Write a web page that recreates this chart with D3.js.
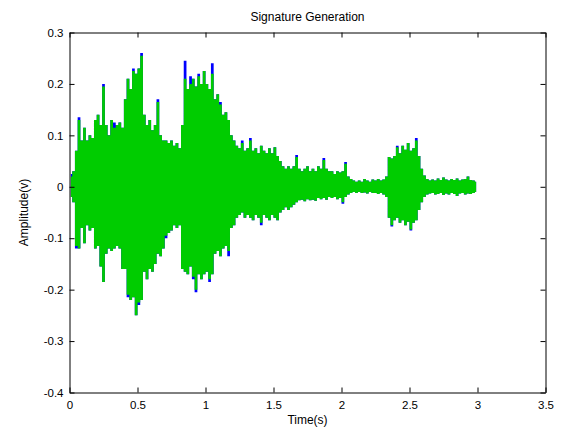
<!DOCTYPE html>
<html><head><meta charset="utf-8">
<script src="https://cdn.jsdelivr.net/npm/d3@7"></script>
<style>body{margin:0;background:#fff}svg{display:block}text{font-family:"Liberation Sans",Arial,sans-serif}</style>
</head><body>
<svg id="c" width="563" height="430"></svg>
<script>
const title = "Signature Generation";
const xLabel = "Time(s)";
const yLabel = "Amplitude(v)";
const xTicks = [0, 0.5, 1, 1.5, 2, 2.5, 3, 3.5];
const yTicks = [0.3, 0.2, 0.1, 0, -0.1, -0.2, -0.3, -0.4];
const binWidth = 0.02; // seconds per envelope bin, starting at t = 0

// green series (signature) per-bin maxima / minima
const greenMax = [0.02,0.03,0.07,0.13,0.09,0.115,0.09,0.10,0.095,0.13,
0.14,0.12,0.195,0.12,0.10,0.13,0.115,0.12,0.125,0.115,
0.17,0.21,0.19,0.225,0.22,0.23,0.255,0.14,0.12,0.13,
0.11,0.12,0.165,0.10,0.09,0.09,0.085,0.09,0.08,0.085,
0.075,0.12,0.21,0.19,0.2,0.21,0.195,0.215,0.2,0.225,
0.2,0.19,0.22,0.17,0.18,0.16,0.14,0.145,0.13,0.1,
0.09,0.08,0.075,0.085,0.07,0.075,0.09,0.07,0.075,0.065,
0.08,0.07,0.065,0.075,0.065,0.077,0.06,0.05,0.04,0.035,
0.04,0.035,0.04,0.058,0.035,0.03,0.035,0.04,0.03,0.035,
0.03,0.04,0.035,0.052,0.035,0.03,0.03,0.025,0.03,0.028,
0.03,0.045,0.02,0.015,0.012,0.01,0.012,0.01,0.015,0.012,
0.01,0.014,0.012,0.015,0.012,0.014,0.02,0.058,0.055,0.06,
0.077,0.065,0.08,0.072,0.085,0.07,0.075,0.09,0.06,0.035,
0.022,0.015,0.012,0.014,0.012,0.016,0.013,0.018,0.014,0.012,
0.015,0.013,0.016,0.012,0.014,0.015,0.02,0.013,0.012,0.01];
const greenMin = [-0.02,-0.03,-0.115,-0.12,-0.08,-0.11,-0.075,-0.085,-0.08,-0.12,
-0.115,-0.155,-0.185,-0.13,-0.12,-0.125,-0.12,-0.115,-0.12,-0.16,
-0.16,-0.21,-0.22,-0.215,-0.25,-0.225,-0.22,-0.165,-0.18,-0.16,
-0.165,-0.15,-0.13,-0.135,-0.12,-0.095,-0.09,-0.085,-0.075,-0.08,
-0.075,-0.16,-0.165,-0.17,-0.155,-0.175,-0.2,-0.17,-0.18,-0.17,
-0.165,-0.18,-0.17,-0.13,-0.125,-0.135,-0.12,-0.115,-0.125,-0.08,
-0.075,-0.06,-0.055,-0.05,-0.06,-0.055,-0.06,-0.065,-0.055,-0.06,
-0.07,-0.055,-0.06,-0.065,-0.055,-0.06,-0.065,-0.05,-0.045,-0.04,
-0.045,-0.04,-0.035,-0.03,-0.026,-0.025,-0.028,-0.024,-0.026,-0.025,
-0.027,-0.022,-0.024,-0.022,-0.025,-0.02,-0.022,-0.02,-0.024,-0.022,
-0.03,-0.02,-0.015,-0.012,-0.01,-0.012,-0.01,-0.012,-0.011,-0.013,
-0.01,-0.012,-0.012,-0.014,-0.012,-0.015,-0.02,-0.06,-0.075,-0.065,
-0.06,-0.07,-0.065,-0.075,-0.068,-0.083,-0.07,-0.065,-0.045,-0.03,
-0.02,-0.015,-0.013,-0.012,-0.015,-0.014,-0.012,-0.016,-0.013,-0.015,
-0.012,-0.014,-0.018,-0.013,-0.012,-0.015,-0.013,-0.014,-0.012,-0.01];

// blue series (original signal) per-bin maxima / minima
const blueMax = [0.025,0.03,0.07,0.135,0.09,0.115,0.09,0.10,0.095,0.13,
0.14,0.12,0.2,0.12,0.10,0.13,0.125,0.12,0.125,0.115,
0.17,0.21,0.19,0.23,0.22,0.23,0.26,0.14,0.12,0.13,
0.11,0.12,0.17,0.10,0.09,0.09,0.085,0.09,0.08,0.085,
0.075,0.12,0.245,0.19,0.215,0.21,0.195,0.22,0.2,0.225,
0.2,0.19,0.24,0.17,0.18,0.165,0.14,0.145,0.13,0.1,
0.09,0.08,0.075,0.09,0.07,0.075,0.095,0.07,0.075,0.065,
0.08,0.07,0.065,0.075,0.065,0.077,0.06,0.05,0.04,0.035,
0.04,0.035,0.04,0.062,0.035,0.03,0.035,0.04,0.03,0.035,
0.03,0.04,0.035,0.056,0.035,0.03,0.03,0.025,0.03,0.028,
0.03,0.048,0.02,0.015,0.012,0.01,0.012,0.01,0.015,0.012,
0.01,0.014,0.012,0.015,0.012,0.014,0.02,0.058,0.055,0.06,
0.08,0.065,0.08,0.072,0.085,0.07,0.075,0.095,0.06,0.035,
0.022,0.015,0.012,0.014,0.012,0.016,0.013,0.018,0.014,0.012,
0.015,0.013,0.016,0.012,0.014,0.015,0.02,0.013,0.012,0.01];
const blueMin = [-0.02,-0.03,-0.12,-0.12,-0.08,-0.11,-0.075,-0.085,-0.08,-0.12,
-0.115,-0.155,-0.185,-0.13,-0.12,-0.125,-0.12,-0.115,-0.12,-0.16,
-0.16,-0.215,-0.22,-0.215,-0.25,-0.23,-0.22,-0.165,-0.18,-0.16,
-0.165,-0.15,-0.13,-0.135,-0.12,-0.1,-0.09,-0.085,-0.075,-0.08,
-0.075,-0.16,-0.165,-0.17,-0.155,-0.18,-0.205,-0.17,-0.18,-0.17,
-0.165,-0.185,-0.17,-0.13,-0.125,-0.135,-0.12,-0.115,-0.135,-0.08,
-0.075,-0.06,-0.055,-0.05,-0.06,-0.055,-0.06,-0.065,-0.055,-0.06,
-0.075,-0.055,-0.06,-0.065,-0.055,-0.06,-0.065,-0.05,-0.045,-0.04,
-0.045,-0.04,-0.035,-0.03,-0.026,-0.025,-0.028,-0.024,-0.026,-0.025,
-0.027,-0.022,-0.024,-0.022,-0.025,-0.02,-0.022,-0.02,-0.024,-0.022,
-0.033,-0.02,-0.015,-0.012,-0.01,-0.012,-0.01,-0.012,-0.011,-0.013,
-0.01,-0.012,-0.012,-0.014,-0.012,-0.015,-0.02,-0.06,-0.077,-0.065,
-0.06,-0.07,-0.065,-0.075,-0.068,-0.085,-0.07,-0.065,-0.045,-0.03,
-0.02,-0.015,-0.013,-0.012,-0.015,-0.014,-0.012,-0.016,-0.013,-0.015,
-0.012,-0.014,-0.018,-0.013,-0.012,-0.015,-0.013,-0.014,-0.012,-0.01];

const svg = d3.select("#c");
const L = 69.5, R = 545.5, T = 32.5, B = 392.5;
const x = d3.scaleLinear().domain([0, 3.5]).range([L, R]);
const y = d3.scaleLinear().domain([-0.4, 0.3]).range([B, T]);

function drawSeries(mx, mn, color) {
  const bins = mx.map((v, i) => ({ t: i * binWidth + binWidth / 2, hi: v, lo: mn[i] }));
  const area = d3.area().curve(d3.curveStep)
    .x(d => x(d.t)).y0(d => y(d.lo)).y1(d => y(d.hi));
  svg.append("path").datum(bins).attr("d", area)
    .attr("fill", color).attr("stroke", "none");
}
drawSeries(blueMax, blueMin, "#0000ff");
drawSeries(greenMax, greenMin, "#00cc00");

// axes
const fmt = d => String(d);
const axB = svg.append("g").attr("transform", `translate(0,${B})`)
  .call(d3.axisBottom(x).tickValues(xTicks).tickFormat(fmt).tickSizeInner(-5).tickSizeOuter(0).tickPadding(8));
const axT = svg.append("g").attr("transform", `translate(0,${T})`)
  .call(d3.axisTop(x).tickValues(xTicks).tickFormat("").tickSizeInner(-5).tickSizeOuter(0));
const axL = svg.append("g").attr("transform", `translate(${L},0)`)
  .call(d3.axisLeft(y).tickValues(yTicks).tickFormat(fmt).tickSizeInner(-5).tickSizeOuter(0).tickPadding(6));
const axR = svg.append("g").attr("transform", `translate(${R},0)`)
  .call(d3.axisRight(y).tickValues(yTicks).tickFormat("").tickSizeInner(-5).tickSizeOuter(0));
[axB, axT, axL, axR].forEach(a => {
  a.select(".domain").attr("stroke", "#000");
  a.selectAll(".tick line").attr("stroke", "#000");
  a.selectAll("text").attr("font-size", 11.5).attr("fill", "#000")
    .style("font-family", '"Liberation Sans", Arial, sans-serif');
});

svg.append("text").attr("x", (L + R) / 2).attr("y", 21).attr("text-anchor", "middle")
  .attr("font-size", 12).text(title);
svg.append("text").attr("x", (L + R) / 2).attr("y", 424).attr("text-anchor", "middle")
  .attr("font-size", 12).text(xLabel);
svg.append("text").attr("transform", `translate(28,${(T + B) / 2}) rotate(-90)`)
  .attr("text-anchor", "middle").attr("font-size", 12).text(yLabel);
</script>
</body></html>
